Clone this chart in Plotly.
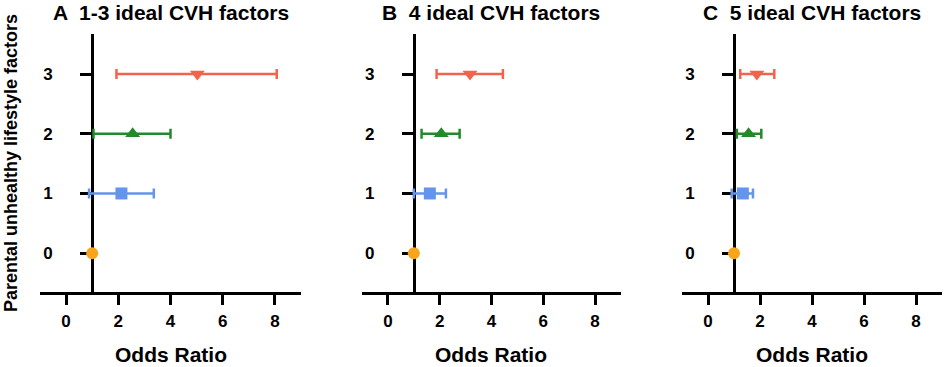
import plotly.graph_objects as go

# ---- data ----
levels = [0, 1, 2, 3]
level_labels = ["0", "1", "2", "3"]
panel_titles = ["A  1-3 ideal CVH factors", "B  4 ideal CVH factors", "C  5 ideal CVH factors"]

or_a = [1.0, 2.12, 2.55, 5.03]
lo_a = [1.0, 0.88, 1.05, 1.93]
hi_a = [1.0, 3.36, 4.00, 8.07]

or_b = [1.0, 1.62, 2.06, 3.17]
lo_b = [1.0, 1.00, 1.30, 1.88]
hi_b = [1.0, 2.24, 2.77, 4.44]

or_c = [1.0, 1.34, 1.56, 1.88]
lo_c = [1.0, 0.91, 1.11, 1.24]
hi_c = [1.0, 1.73, 2.05, 2.55]

x_ticks = [0, 2, 4, 6, 8]
ref_or = 1.0

colors = ["#F9A51B", "#6495ED", "#23892A", "#F1634B"]
symbols = ["circle", "square", "triangle-up", "triangle-down"]
msizes = [12, 12, 13, 13]

panels = [(or_a, lo_a, hi_a), (or_b, lo_b, hi_b), (or_c, lo_c, hi_c)]

W, H = 945, 367
PLOT_TOP, PLOT_BOT = 34, 292
MT, MB = PLOT_TOP, H - PLOT_BOT
domains_px = [(40, 301), (362, 621), (682, 942)]
xrange_ = [-1, 9]
yrange_ = [-0.65, 3.67]

font_family = "Liberation Sans, Arial, sans-serif"

fig = go.Figure()
layout = dict(
    width=W, height=H,
    margin=dict(l=0, r=0, t=MT, b=MB, autoexpand=False),
    paper_bgcolor="white", plot_bgcolor="white",
    showlegend=False,
    font=dict(family=font_family, color="black"),
    annotations=[],
)

plot_h = PLOT_BOT - PLOT_TOP


def py(win_y):
    return (PLOT_BOT - win_y) / plot_h


def px(win_x):
    return win_x / W


for i, (ors, los, his) in enumerate(panels):
    xs = "x" if i == 0 else f"x{i+1}"
    ys = "y" if i == 0 else f"y{i+1}"
    for k, lev in enumerate(levels):
        plus = his[k] - ors[k]
        minus = ors[k] - los[k]
        has_err = (plus > 0 or minus > 0)
        fig.add_trace(go.Scatter(
            x=[ors[k]], y=[lev], mode="markers",
            xaxis=xs, yaxis=ys,
            marker=dict(color=colors[k], symbol=symbols[k], size=msizes[k], line=dict(width=0)),
            error_x=dict(type="data", symmetric=False, array=[plus], arrayminus=[minus],
                         color=colors[k], thickness=2.5, width=5, visible=has_err),
            cliponaxis=False,
        ))
    d0, d1 = px(domains_px[i][0]), px(domains_px[i][1])
    ypos = d0 + (ref_or - xrange_[0]) / (xrange_[1] - xrange_[0]) * (d1 - d0)
    xkey = "xaxis" if i == 0 else f"xaxis{i+1}"
    ykey = "yaxis" if i == 0 else f"yaxis{i+1}"
    layout[xkey] = dict(
        domain=[d0, d1], range=xrange_, anchor=ys,
        showline=True, linewidth=3, linecolor="black",
        ticks="outside", ticklen=10, tickwidth=3, tickcolor="black",
        tickvals=x_ticks, ticktext=[str(v) for v in x_ticks],
        tickfont=dict(size=17, family=font_family, weight="bold", color="black"),
        ticklabelstandoff=2, layer="below traces",
        showgrid=False, zeroline=False, fixedrange=True,
    )
    layout[ykey] = dict(
        domain=[0, 1], range=yrange_, anchor="free", position=ypos,
        showline=True, linewidth=3, linecolor="black",
        ticks="outside", ticklen=11, tickwidth=3, tickcolor="black",
        tickvals=levels, ticktext=level_labels,
        tickfont=dict(size=17, family=font_family, weight="bold", color="black"),
        ticklabelstandoff=24, layer="below traces",
        showgrid=False, zeroline=False, fixedrange=True,
    )
    cx = (d0 + d1) / 2
    layout["annotations"].append(dict(
        text=panel_titles[i], x=cx, y=py(12),
        xref="paper", yref="paper", xanchor="center", yanchor="middle", showarrow=False,
        font=dict(size=21, family=font_family, weight="bold", color="black"),
    ))
    layout["annotations"].append(dict(
        text="Odds Ratio", x=cx, y=py(354),
        xref="paper", yref="paper", xanchor="center", yanchor="middle", showarrow=False,
        font=dict(size=21, family=font_family, weight="bold", color="black"),
    ))

layout["annotations"].append(dict(
    text="Parental unhealthy lifestyle factors", x=px(11), y=0.5,
    xref="paper", yref="paper", xanchor="center", yanchor="middle", showarrow=False,
    textangle=-90,
    font=dict(size=18, family=font_family, weight="bold", color="black"),
))

fig.update_layout(**layout)
fig.write_html("out.html", config={"displayModeBar": False},
               post_script="document.body.style.margin='0px';")
